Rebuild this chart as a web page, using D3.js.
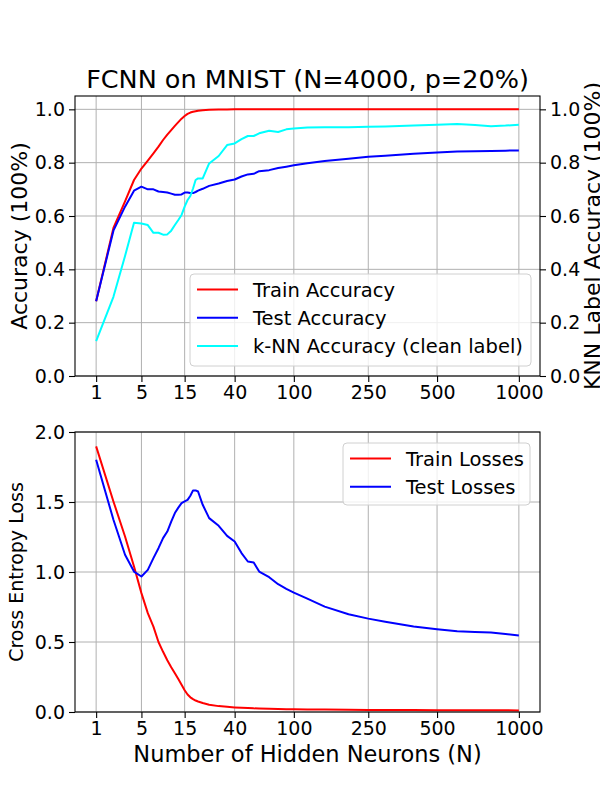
<!DOCTYPE html>
<html>
<head>
<meta charset="utf-8">
<script src="https://cdn.jsdelivr.net/npm/d3@7"></script>
<style>
body { margin: 0; background: #fff; }
text { font-family: "DejaVu Sans", sans-serif; fill: #000; }
</style>
</head>
<body>
<script>
// hidden neurons (N)
var neurons = [1, 2, 3, 4, 5, 6, 7, 8, 9, 10, 11, 12, 13, 14, 15, 16, 17, 18, 19, 20,
  22, 25, 30, 35, 40, 45, 50, 55, 60, 70, 80, 90, 100, 120, 150, 200, 250, 300,
  400, 500, 600, 700, 800, 900, 1000];

var trainAcc = [0.28, 0.555, 0.655, 0.735, 0.778, 0.808, 0.835, 0.86, 0.885, 0.905,
  0.922, 0.938, 0.952, 0.965, 0.975, 0.983, 0.988, 0.991, 0.993, 0.995,
  0.997, 0.998, 0.999, 0.999, 1.0, 1.0, 1.0, 1.0, 1.0, 1.0, 1.0, 1.0, 1.0, 1.0, 1.0,
  1.0, 1.0, 1.0, 1.0, 1.0, 1.0, 1.0, 1.0, 1.0, 1.0];

var testAcc = [0.28, 0.545, 0.635, 0.695, 0.71, 0.700, 0.700, 0.692, 0.690, 0.688,
  0.684, 0.680, 0.680, 0.681, 0.688, 0.688, 0.686, 0.686, 0.690, 0.695,
  0.702, 0.713, 0.722, 0.731, 0.737, 0.748, 0.756, 0.758, 0.768, 0.772, 0.780, 0.785,
  0.790, 0.798, 0.806, 0.815, 0.822, 0.826, 0.833, 0.838, 0.842, 0.843, 0.844, 0.845, 0.846];

var knnAcc = [0.131, 0.297, 0.45, 0.575, 0.572, 0.566, 0.537, 0.537, 0.530, 0.531,
  0.545, 0.566, 0.585, 0.604, 0.635, 0.66, 0.675, 0.703, 0.735, 0.741,
  0.741, 0.797, 0.825, 0.866, 0.872, 0.888, 0.900, 0.900, 0.910, 0.920, 0.915, 0.925,
  0.928, 0.932, 0.933, 0.933, 0.935, 0.936, 0.939, 0.942, 0.945, 0.941, 0.937, 0.939, 0.942];

var trainLoss = [1.897, 1.504, 1.254, 1.039, 0.849, 0.706, 0.61, 0.50, 0.43, 0.37,
  0.32, 0.277, 0.235, 0.195, 0.155, 0.125, 0.105, 0.092, 0.082, 0.075,
  0.064, 0.052, 0.042, 0.037, 0.033, 0.030, 0.028, 0.026, 0.025, 0.023, 0.021, 0.020,
  0.019, 0.018, 0.017, 0.016, 0.015, 0.015, 0.014, 0.013, 0.013, 0.012, 0.012, 0.012, 0.011];

var testLoss = [1.802, 1.373, 1.123, 1.003, 0.968, 1.015, 1.099, 1.17, 1.242, 1.289,
  1.36, 1.421, 1.46, 1.492, 1.505, 1.515, 1.545, 1.583, 1.583, 1.575,
  1.48, 1.385, 1.33, 1.258, 1.218, 1.135, 1.075, 1.068, 1.003, 0.963, 0.913, 0.88,
  0.853, 0.81, 0.753, 0.698, 0.667, 0.645, 0.61, 0.591, 0.577, 0.572, 0.567, 0.557, 0.546];

var xTicks = [1, 5, 15, 40, 100, 250, 500, 1000];
var accTicks = [0.0, 0.2, 0.4, 0.6, 0.8, 1.0];
var lossTicks = [0.0, 0.5, 1.0, 1.5, 2.0];

var svg = d3.select('body').append('svg')
  .attr('width', 600)
  .attr('height', 800);

var left = 75, right = 540;
// x axis is spaced by N^(1/4), with 5% margin like matplotlib
var t0 = Math.pow(d3.min(neurons), 0.25), t1 = Math.pow(d3.max(neurons), 0.25);
var pad = (t1 - t0) * 0.05;
var x = d3.scalePow().exponent(0.25)
  .domain([Math.pow(t0 - pad, 4), Math.pow(t1 + pad, 4)])
  .range([left, right]);

function drawPanel(top, bottom, yMax, yTicks, yFmt) {
  var g = svg.append('g');
  var y = d3.scaleLinear().domain([0, yMax]).range([bottom, top]);

  // grid
  g.selectAll('line.vgrid').data(xTicks).enter().append('line')
    .attr('class', 'vgrid')
    .attr('x1', function (d) { return x(d); })
    .attr('x2', function (d) { return x(d); })
    .attr('y1', top).attr('y2', bottom)
    .attr('stroke', '#b0b0b0').attr('stroke-width', 1);
  g.selectAll('line.hgrid').data(yTicks).enter().append('line')
    .attr('class', 'hgrid')
    .attr('x1', left).attr('x2', right)
    .attr('y1', function (d) { return y(d); })
    .attr('y2', function (d) { return y(d); })
    .attr('stroke', '#b0b0b0').attr('stroke-width', 1);

  // axes
  var xa = g.append('g').attr('transform', 'translate(0,' + bottom + ')')
    .call(d3.axisBottom(x).tickValues(xTicks).tickSize(6).tickPadding(4).tickFormat(d3.format('d')));
  var ya = g.append('g').attr('transform', 'translate(' + left + ',0)')
    .call(d3.axisLeft(y).tickValues(yTicks).tickSize(6).tickPadding(4).tickFormat(yFmt));
  [xa, ya].forEach(function (a) {
    a.select('.domain').remove();
    a.selectAll('text').style('font-size', '19px').attr('fill', '#000');
    a.selectAll('line').attr('stroke', '#000').attr('stroke-width', 1.1);
  });

  return { g: g, y: y };
}

function drawLine(p, values, color) {
  var line = d3.line()
    .x(function (d, i) { return x(neurons[i]); })
    .y(function (d) { return p.y(d); });
  p.g.append('path')
    .datum(values)
    .attr('d', line)
    .attr('fill', 'none')
    .attr('stroke', color)
    .attr('stroke-width', 2)
    .attr('stroke-linejoin', 'round');
}

function drawFrame(p, top, bottom) {
  p.g.append('rect')
    .attr('x', left).attr('y', top)
    .attr('width', right - left).attr('height', bottom - top)
    .attr('fill', 'none').attr('stroke', '#000').attr('stroke-width', 1.1);
}

function drawLegend(g, bx, by, bw, bh, items) {
  g.append('rect')
    .attr('x', bx).attr('y', by).attr('width', bw).attr('height', bh)
    .attr('rx', 4)
    .attr('fill', '#fff').attr('fill-opacity', 0.8)
    .attr('stroke', '#d0d0d0').attr('stroke-width', 1);
  items.forEach(function (it, i) {
    var cy = by + 15.5 + i * 28.3;
    g.append('line')
      .attr('x1', bx + 7).attr('x2', bx + 48)
      .attr('y1', cy).attr('y2', cy)
      .attr('stroke', it.color).attr('stroke-width', 2);
    g.append('text')
      .attr('x', bx + 63).attr('y', cy + 7)
      .style('font-size', '19.5px')
      .text(it.label);
  });
}

// ---- top panel: accuracy
var topT = 96, topB = 376;
var p1 = drawPanel(topT, topB, 1.05, accTicks, d3.format('.1f'));
// right axis for k-NN accuracy
var ra = p1.g.append('g').attr('transform', 'translate(' + right + ',0)')
  .call(d3.axisRight(p1.y).tickValues(accTicks).tickSize(6).tickPadding(4).tickFormat(d3.format('.1f')));
ra.select('.domain').remove();
ra.selectAll('text').style('font-size', '19px').attr('fill', '#000');
ra.selectAll('line').attr('stroke', '#000').attr('stroke-width', 1.1);

drawLine(p1, trainAcc, '#ff0000');
drawLine(p1, testAcc, '#0000ff');
drawLine(p1, knnAcc, '#00ffff');
drawFrame(p1, topT, topB);
drawLegend(p1.g, 190, 274, 341, 92, [
  { label: 'Train Accuracy', color: '#ff0000' },
  { label: 'Test Accuracy', color: '#0000ff' },
  { label: 'k-NN Accuracy (clean label)', color: '#00ffff' }
]);

svg.append('text')
  .attr('x', (left + right) / 2).attr('y', 88)
  .attr('text-anchor', 'middle')
  .style('font-size', '25.5px')
  .text('FCNN on MNIST (N=4000, p=20%)');

svg.append('text')
  .attr('transform', 'translate(27,' + (topT + topB) / 2 + ') rotate(-90)')
  .attr('text-anchor', 'middle')
  .style('font-size', '22px')
  .text('Accuracy (100%)');

svg.append('text')
  .attr('transform', 'translate(600,' + (topT + topB) / 2 + ') rotate(-90)')
  .attr('text-anchor', 'middle')
  .style('font-size', '22px')
  .text('KNN Label Accuracy (100%)');

// ---- bottom panel: losses
var botT = 432, botB = 712;
var p2 = drawPanel(botT, botB, 2.0, lossTicks, d3.format('.1f'));
drawLine(p2, trainLoss, '#ff0000');
drawLine(p2, testLoss, '#0000ff');
drawFrame(p2, botT, botB);
drawLegend(p2.g, 343, 443, 187, 62, [
  { label: 'Train Losses', color: '#ff0000' },
  { label: 'Test Losses', color: '#0000ff' }
]);

svg.append('text')
  .attr('transform', 'translate(23,' + (botT + botB) / 2 + ') rotate(-90)')
  .attr('text-anchor', 'middle')
  .style('font-size', '19px')
  .text('Cross Entropy Loss');

svg.append('text')
  .attr('x', (left + right) / 2).attr('y', 762)
  .attr('text-anchor', 'middle')
  .style('font-size', '22.5px')
  .text('Number of Hidden Neurons (N)');
</script>
</body>
</html>
